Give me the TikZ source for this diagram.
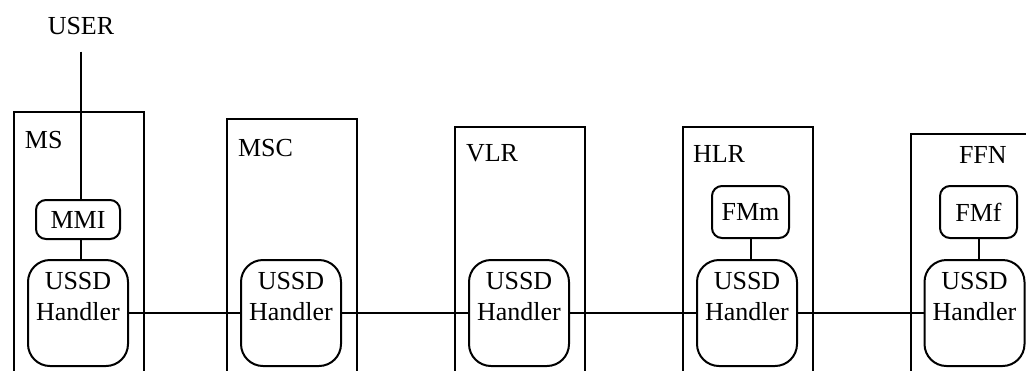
\documentclass[tikz,border=0pt]{standalone}
\usepackage{fontspec}
\setmainfont{Liberation Serif}
\usetikzlibrary{positioning}
\begin{document}
\begin{tikzpicture}[x=0.5pt,y=-0.5pt,line width=1pt,font=\fontsize{13}{15.5}\selectfont,
 entity/.style={draw,anchor=north west,minimum width=65pt,minimum height=150pt,inner sep=0pt},
 handler/.style={draw,rounded corners=11pt,minimum width=50pt,minimum height=53pt,inner sep=0pt,
   label={[align=center,yshift=8.25pt]center:USSD\\Handler}},
 fm/.style={draw,rounded corners=5pt,inner sep=0pt},
 tag/.style={anchor=north west,inner sep=0pt}]
 \useasboundingbox (0,0) rectangle (1026,370);
 \clip (0,0) rectangle (1026,370);
 \node[entity] (ms) at (13,111) {};
 \node[entity] (msc) at (226,118) {};
 \node[entity] (vlr) at (454,126) {};
 \node[entity] (hlr) at (682,126) {};
 \node[entity] (ffn) at (910,133) {};
 \node[tag] (msl) at (24,130) {MS};
 \node[tag] (mscl) at (237,138) {MSC};
 \node[tag] (vlrl) at (465,143) {VLR};
 \node[tag] (hlrl) at (692,144) {HLR};
 \node[tag] (ffnl) at (958,145) {FFN};
 \node[inner sep=8pt] (user) at (81,26) {USER};
 \node[fm,minimum width=42pt,minimum height=19.5pt] (mmi) at (78,219.5) {MMI};
 \node[fm,minimum width=38.5pt,minimum height=26pt] (fmm) at (750.5,212) {FMm};
 \node[fm,minimum width=38.5pt,minimum height=26pt] (fmf) at (978.5,212) {FMf};
 \node[handler] (hms) at (78,313) {};
 \node[handler] (hmsc) at (291,313) {};
 \node[handler] (hvlr) at (519,313) {};
 \node[handler] (hhlr) at (747,313) {};
 \node[handler] (hffn) at (974.5,313) {};
 \draw (user) -- (user |- mmi.north);
 \draw (user |- mmi.south) -- (user |- hms.north);
 \draw (fmm) -- (fmm |- hhlr.north);
 \draw (fmf) -- (fmf |- hffn.north);
 \draw (hms) -- (hmsc); \draw (hmsc) -- (hvlr); \draw (hvlr) -- (hhlr); \draw (hhlr) -- (hffn);
\end{tikzpicture}
\end{document}
